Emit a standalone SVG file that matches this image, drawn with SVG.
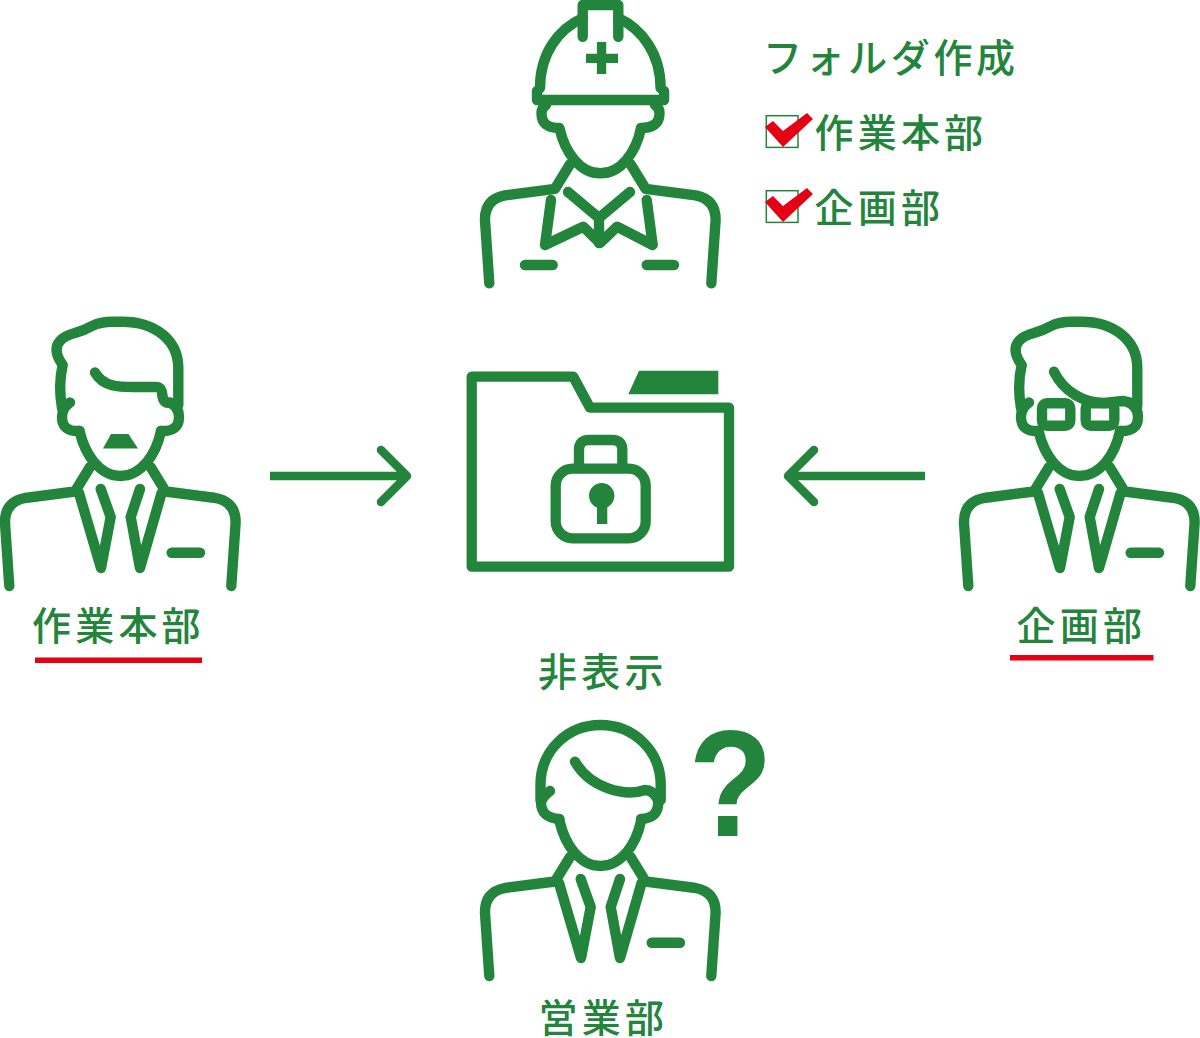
<svg xmlns="http://www.w3.org/2000/svg" width="1200" height="1038" viewBox="0 0 1200 1038">
<style>
.l{fill:none;stroke:#23843c;stroke-width:10.400;stroke-linecap:round;stroke-linejoin:round}
.a{fill:none;stroke:#23843c;stroke-width:8.500;stroke-linejoin:round}
.f{fill:#23843c}
.t{font-family:"Noto Sans CJK JP","Noto Sans",sans-serif;font-size:39px;font-weight:500;letter-spacing:4.200px;fill:#23843c}
.r{fill:#e60012}
.c{fill:none;stroke:#23843c;stroke-width:1.5}
</style>
<defs>
<filter id="soft" x="-10%" y="-10%" width="120%" height="120%"><feGaussianBlur stdDeviation="0.7"/></filter>
<g id="bodyBase" class="l"><path d="M9.300 586 L5 523 Q4.500 502 25 498 L75 491.500 L90 467"/><path d="M231.300 586 L235.600 523 Q236 502 215.600 498 L165.600 491.500 L150.600 467"/><path d="M79.500 431 C85 455 100 476 120.300 476 C141 476 156 455 161 431"/></g>
<g id="ears" class="l"><path d="M79.500 431 Q62 432 62 417 Q62 408 70 402.500"/><path d="M161 431 Q179 432 179 417 Q179 407 170 402.500"/></g>
<g id="suit" class="l"><path d="M79 493 L101 568 L110.700 517 L100.700 489"/><path d="M161.600 493 L140 568 L130.700 517 L140 489"/><path d="M171.700 552.700 H200"/></g>
<g id="hairTop" class="l"><path d="M62 408 Q58 385 62.700 365 Q52 350 60 341 Q64 336 75 333 Q85 330 92 326 Q100 321.700 113 321.700 H122 C155 321.700 178.300 340 178.300 368 V405"/></g>
</defs>
<g id="connectors">
<path class="a" d="M270 476 H405"/><path class="a" stroke-linecap="round" d="M381 450 L407 476 L381 502"/>
<path class="a" d="M925 476 H792"/><path class="a" stroke-linecap="round" d="M814 450 L788 476 L814 502"/>
</g>
<g id="node-folder">
<path d="M471.700 376.700 H573.300 L590 407.700 H729 V566.700 H471.700 Z" fill="none" stroke="#23843c" stroke-width="10.300" stroke-linejoin="round"/>
<polygon class="f" points="639,370.700 718.300,370.700 718.300,394.300 628.300,394.300"/>
<rect x="555.700" y="468.700" width="90" height="69.600" rx="17" fill="none" stroke="#23843c" stroke-width="10.300"/>
<path d="M579 468 V450 Q579 440 589 440 H612.300 Q622.300 440 622.300 450 V468" fill="none" stroke="#23843c" stroke-width="10.300"/>
<circle class="f" cx="601.700" cy="495.700" r="12.700"/>
<rect class="f" x="597" y="500" width="10.300" height="24"/>
</g>
<g id="node-site">
<g transform="translate(480 -302.700)"><use href="#bodyBase"/></g>
<g class="l">
<path d="M540 88 C540 54 558 29 583 18 M660.600 88 C660.600 54 642 29 618.300 18"/>
<path d="M582.700 36.700 V5 H618.300 V36.700"/>
<path d="M537 91 V100 H664 V91"/>
<path d="M546 105 Q541 108 541.500 114 Q542 128 559 128"/>
<path d="M655 105 Q660 108 659.500 114 Q659 128 641 128"/>
<path d="M568 192 L599 218 L630 192 M599 218 V243"/>
<path d="M551 200 L545 245 L583.300 226.700 L600 243 L617 226.700 L652.700 245 L646.700 200"/>
<path d="M525 265 H552.700 M646.700 265 H674"/>
</g>
<path class="f" d="M596.900 42 H606.200 V53.700 H618 V63 H606.200 V74 H596.900 V63 H586 V53.700 H596.900 Z"/>
</g>
<g id="node-sagyo">
<use href="#bodyBase"/><use href="#ears"/><use href="#suit"/><use href="#hairTop"/>
<path class="l" d="M95 372.500 C103 387 120 387 133 387 H156 Q162 387 162.300 395 Q163 403 170 403"/>
<polygon class="f" points="111,434 128.500,434 138,448.500 103,448.500"/>
</g>
<g id="node-kikaku" transform="translate(959 0)">
<use href="#bodyBase"/><use href="#ears"/><use href="#suit"/><use href="#hairTop"/>
<path class="l" d="M95 371.700 C105 392 125 403 145 403 L164 401 Q172 402 178 407"/>
<rect class="l" x="83" y="403.300" width="28.300" height="22.400" rx="5"/>
<rect class="l" x="126.700" y="403.300" width="28.600" height="22.400" rx="5"/>
</g>
<g id="node-eigyo">
<g transform="translate(480 390)"><use href="#bodyBase"/><use href="#suit"/></g>
<g class="l">
<path d="M540.500 800 V785 C540.500 750 568 725 600.500 725 C633 725 660.700 750 660.700 785 V800"/>
<path d="M575 761.700 C590 788 625 797 645 790 Q653 790 658 800 Q660 818 641 819"/>
<path d="M559.500 819 Q541 818 541 802 Q543 796 550 791"/>
</g>
</g>
<g id="label-question"><text transform="translate(688.500 836) scale(.9 1)" font-family="'Liberation Sans',sans-serif" font-weight="700" font-size="153" fill="#23843c">?</text></g>
<g id="legend">
<text class="t" x="763" y="71.500" style="letter-spacing:3.600px">フォルダ作成</text>
<rect class="c" x="766.300" y="115.700" width="31.700" height="31.700"/>
<polygon class="r" filter="url(#soft)" points="765,127 773,121 783,131 807,113 813,119 783,147"/>
<text class="t" x="814.500" y="146.500">作業本部</text>
<rect class="c" x="766.300" y="190.700" width="31.700" height="31.700"/>
<polygon class="r" filter="url(#soft)" points="765,202 773,196 783,206 807,188 813,194 783,222"/>
<text class="t" x="814.500" y="221.500">企画部</text>
</g>
<g id="labels">
<text class="t" x="32" y="639.500">作業本部</text>
<rect class="r" x="35" y="657.500" width="167" height="5.500"/>
<text class="t" x="1016.500" y="639.500">企画部</text>
<rect class="r" x="1010" y="655" width="143.500" height="5.500"/>
<text class="t" x="538" y="685.500">非表示</text>
<text class="t" x="538.500" y="1031.500">営業部</text>
</g>
</svg>
